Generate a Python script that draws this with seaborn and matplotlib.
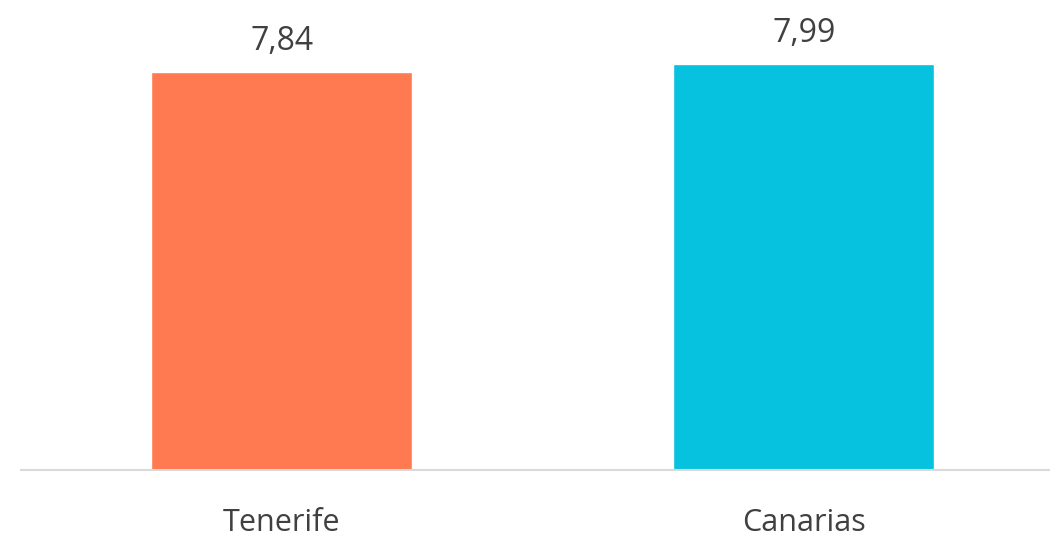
import matplotlib
matplotlib.use('Agg')
import matplotlib.pyplot as plt
import seaborn as sns
import pandas as pd

# Data
regions = ['Tenerife', 'Canarias']
values = [7.84, 7.99]
colors = ['#FF7A50', '#06C2DE']

df = pd.DataFrame({'region': regions, 'value': values})

sns.set_style('white')
plt.rcParams['font.family'] = ['Open Sans', 'DejaVu Sans']

fig = plt.figure(figsize=(10.5, 5.39), dpi=100)
ax = fig.add_axes([0.02, 0.128, 0.994, 0.848])

sns.barplot(data=df, x='region', y='value', hue='region', palette=colors,
            width=0.5, legend=False, ax=ax, saturation=1)

for p, v in zip(ax.patches, values):
    ax.annotate(f'{v:.2f}'.replace('.', ','),
                (p.get_x() + p.get_width() / 2, p.get_height()),
                xytext=(0, 10), textcoords='offset points',
                ha='center', va='bottom', fontsize=23, color='#404040')

ax.set_xlim(-0.5, 1.5)
ax.set_ylim(0, 9)
ax.set_xlabel('')
ax.set_ylabel('')
ax.set_yticks([])
ax.tick_params(axis='x', length=0, labelsize=22, labelcolor='#404040', pad=27)
for s in ['top', 'left', 'right']:
    ax.spines[s].set_visible(False)
ax.spines['bottom'].set_color('#D9D9D9')
ax.spines['bottom'].set_linewidth(1.5)

fig.savefig('out.png', dpi=100)
